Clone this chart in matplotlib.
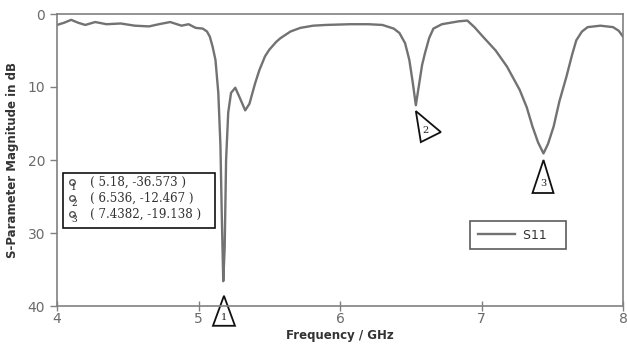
import matplotlib
matplotlib.use("Agg")
import matplotlib.pyplot as plt
from matplotlib.patches import Polygon, Rectangle
from matplotlib.lines import Line2D
from matplotlib.transforms import ScaledTranslation

freq = [4.00, 4.05, 4.10, 4.15, 4.20, 4.27, 4.35, 4.45, 4.55, 4.65, 4.72, 4.80,
        4.88, 4.93, 4.98, 5.03, 5.06, 5.08, 5.10, 5.12, 5.14, 5.155, 5.165, 5.175,
        5.185, 5.195, 5.21, 5.23, 5.26, 5.29, 5.33, 5.36, 5.40, 5.43, 5.47, 5.50,
        5.55, 5.58, 5.65, 5.72, 5.81, 5.90, 6.07, 6.20, 6.30, 6.38, 6.42, 6.46,
        6.49, 6.515, 6.536, 6.56, 6.58, 6.60, 6.63, 6.66, 6.72, 6.78, 6.84, 6.90,
        6.95, 7.01, 7.10, 7.18, 7.27, 7.32, 7.36, 7.40, 7.438, 7.47, 7.51, 7.55,
        7.60, 7.64, 7.67, 7.71, 7.75, 7.84, 7.93, 7.97, 8.00]
s11 = [1.5, 1.2, 0.8, 1.2, 1.5, 1.1, 1.4, 1.3, 1.6, 1.7, 1.4, 1.1,
       1.6, 1.4, 1.9, 2.0, 2.4, 3.1, 4.5, 6.3, 10.8, 18.0, 28.0, 36.6,
       32.0, 20.0, 13.5, 10.8, 10.1, 11.4, 13.2, 12.3, 9.5, 7.7, 5.8, 4.9,
       3.8, 3.3, 2.4, 1.9, 1.6, 1.5, 1.4, 1.4, 1.5, 2.0, 2.6, 4.0,
       6.3, 9.5, 12.5, 9.5, 7.0, 5.4, 3.3, 2.0, 1.4, 1.2, 1.0, 0.9,
       1.8, 3.1, 5.0, 7.2, 10.4, 12.8, 15.4, 17.6, 19.1, 17.8, 15.4, 12.0,
       8.6, 5.6, 3.6, 2.4, 1.8, 1.6, 1.8, 2.3, 3.1]

marker_ids = ["1", "2", "3"]
marker_freq = [5.18, 6.536, 7.4382]
marker_db = [-36.573, -12.467, -19.138]
marker_labels = ["( 5.18, -36.573 )", "( 6.536, -12.467 )", "( 7.4382, -19.138 )"]

xticks = [4, 5, 6, 7, 8]
yticks = [0, 10, 20, 30, 40]

fig = plt.figure(figsize=(6.27, 3.47), dpi=100)
ax = fig.add_axes([57/627, 1-306/347, 566/627, 292/347])

gray = "#727272"
ax.plot(freq, s11, color=gray, lw=1.7, label="S11")
ax.set_xlim(4, 8)
ax.set_ylim(40, 0)
ax.set_xticks(xticks)
ax.set_yticks(yticks)
for s in ax.spines.values():
    s.set_color("#808080")
    s.set_linewidth(1.2)
ax.tick_params(axis="both", colors="#808080", labelcolor="#6a6a6a",
               labelsize=10, length=5, width=1)
ax.tick_params(axis="x", direction="inout", length=7, pad=1)
ax.set_xlabel("Frequency / GHz", fontsize=8.5, fontweight="bold",
              color="#333333", labelpad=2)
ax.set_ylabel("S-Parameter Magnitude in dB", fontsize=8.5, fontweight="bold",
              color="#333333", labelpad=6)

# triangle markers (vertices in inches relative to apex, apex at data point)
tri_shapes = {
    "1": [(0, 0), (-0.11, -0.30), (0.11, -0.30)],
    "2": [(0, 0), (0.25, -0.21), (0.05, -0.31)],
    "3": [(0, 0), (-0.11, -0.33), (0.10, -0.33)],
}
apex_db = [38.6, 13.3, 20.0]
for mid, f, yd in zip(marker_ids, marker_freq, apex_db):
    tr = fig.dpi_scale_trans + ScaledTranslation(f, yd, ax.transData)
    verts = tri_shapes[mid]
    poly = Polygon(verts, closed=True, fill=False, edgecolor="#111111",
                   lw=1.3, transform=tr, clip_on=False)
    ax.add_patch(poly)
    cx = sum(v[0] for v in verts) / 3
    cy = sum(v[1] for v in verts) / 3 - 0.02
    ax.text(cx, cy, mid, transform=tr, fontsize=7, family="DejaVu Serif",
            ha="center", va="center", color="#222222", clip_on=False)

# marker table box
bx0, by0, bx1, by1 = 63, 173, 215, 228
fig.patches.append(Rectangle((bx0/627, 1-by1/347), (bx1-bx0)/627, (by1-by0)/347,
                             transform=fig.transFigure, fill=True, facecolor="white",
                             edgecolor="#111111", lw=1.2))
for i, (mid, lab) in enumerate(zip(marker_ids, marker_labels)):
    yy = 182 + i * 16
    fig.lines.append(Line2D([72/627], [1-(yy)/347], transform=fig.transFigure,
                            marker="o", ms=4, mfc="none", mec="#555555", mew=1))
    fig.text(74/627, 1-(yy+6)/347, mid, fontsize=6.5, family="DejaVu Serif",
             color="#222222", ha="center", va="center")
    fig.text(90/627, 1-yy/347, lab, fontsize=8.6, family="DejaVu Serif",
             color="#333333", ha="left", va="center")

# legend
leg = ax.legend(loc="upper left", bbox_to_anchor=((464-57)/566, 1-(215-14)/292),
                frameon=True, fancybox=False, fontsize=9, handlelength=3.0,
                borderpad=0.6, handletextpad=0.6)
leg.get_frame().set_edgecolor("#333333")
leg.get_frame().set_linewidth(1.2)
for t in leg.get_texts():
    t.set_color("#333333")
    t.set_text("S11   ")

fig.savefig("out.png", dpi=100)
